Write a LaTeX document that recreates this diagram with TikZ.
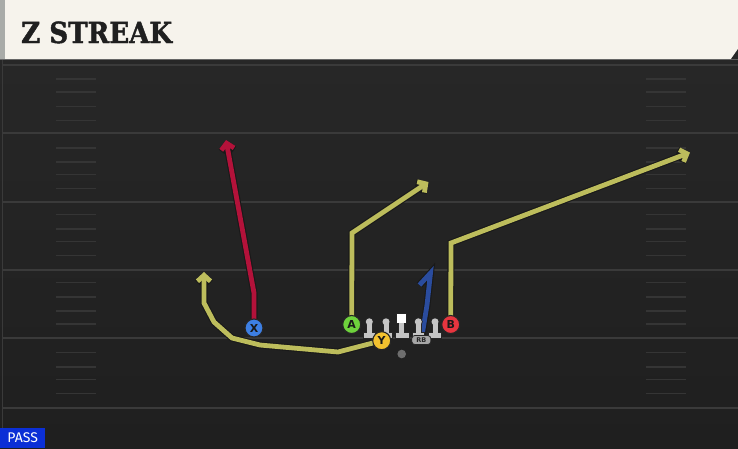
\documentclass[tikz,border=0pt]{standalone}
\usepackage{fontspec}
\setmainfont{DejaVu Sans}
\newfontfamily\titlefont[FakeBold=1.6]{DejaVu Serif Bold}
\newfontfamily\passfont{Fira Sans}
\usetikzlibrary{arrows.meta}
\definecolor{fieldtop}{HTML}{272727}
\definecolor{fieldbot}{HTML}{1F1F1F}
\definecolor{yardline}{HTML}{3A3A3A}
\definecolor{hashc}{HTML}{353535}
\definecolor{cream}{HTML}{F6F3EC}
\definecolor{creamedge}{HTML}{A9ABA8}
\definecolor{passblue}{HTML}{0B2FD6}
\definecolor{redroute}{HTML}{B3123A}
\definecolor{yelroute}{HTML}{BDBD5C}
\definecolor{blueroute}{HTML}{2A4C9E}
\definecolor{pX}{HTML}{3D7FE3}
\definecolor{pA}{HTML}{6ED23C}
\definecolor{pY}{HTML}{F3C22F}
\definecolor{pB}{HTML}{E7353F}
\definecolor{lmgray}{HTML}{C4C4C4}
\definecolor{rbgray}{HTML}{A6A6A6}
\definecolor{qbgray}{HTML}{6E6E6E}
\begin{document}
\begin{tikzpicture}[x=1pt,y=-1pt,
  outl/.style={draw=black!90, line width=7pt, line join=miter, line cap=butt},
  route/.style={line width=4.8pt, line join=miter, line cap=butt},
  tip/.style={-{Straight Barb[length=6pt,width=13pt]}},
  player/.style={circle, minimum size=18pt, inner sep=0pt, draw=black!85, line width=1.1pt,
     text=black!90, font=\bfseries\fontsize{11}{11}\selectfont},
  hash/.style={draw=hashc, line width=1.6pt},
  yard/.style={draw=yardline, line width=2pt},
  lmout/.style={draw=black!85, line width=1.8pt},
]
\useasboundingbox (0,0) rectangle (738,448);
% field
\shade[top color=fieldtop, bottom color=fieldbot] (0,59) rectangle (738,448);
\draw[draw=black!60, line width=1pt] (0,59.5) -- (738,59.5);
\draw[draw=yardline, line width=1pt] (2,60) -- (2,448);
% yard lines
\foreach \y in {65,133,202,270,338,408} \draw[yard] (3,\y) -- (738,\y);
% hash marks
\foreach \y in {79,92,106.5,120.5,148,162,174.5,188.5,214.5,229,241.5,255.5,282.5,297,311,324,352.5,367,379.5,393.5}{
  \draw[hash] (56,\y) -- (96,\y);
  \draw[hash] (646,\y) -- (686,\y);
}
% header
\fill[cream] (0,0) rectangle (738,59);
\fill[creamedge] (0,0) rectangle (5,59);
\fill[fieldtop] (738,49) -- (738,59) -- (731,59) -- cycle;
\node[anchor=base west, inner sep=0pt, text=black!88, font=\titlefont\fontsize{29}{29}\selectfont] (title) at (21,43) {\scalebox{0.9}[1]{Z STREAK}};
% pass label
\node[anchor=south west, fill=passblue, text=white, inner sep=0pt, minimum width=45pt, minimum height=20pt, font=\passfont\fontsize{14}{14}\selectfont] (pass) at (0,448) {PASS};

% player anchor coordinates
\coordinate (cX) at (254,328);
\coordinate (cA) at (351.7,324.5);
\coordinate (cY) at (381.7,340.7);
\coordinate (cB) at (450.7,324.5);
\coordinate (cRB) at (421.3,340);
% route end points
\coordinate (x1) at (254,293);
\coordinate (xe) at (226,140);
\coordinate (y1) at (338,352);
\coordinate (y2) at (260,345);
\coordinate (y3) at (232,338);
\coordinate (y4) at (214,322);
\coordinate (y5) at (204,303);
\coordinate (ye) at (204,272);
\coordinate (a1) at (352,233);
\coordinate (ae) at (428.5,182);
\coordinate (b1) at (451,243);
\coordinate (be) at (690,152.5);
\coordinate (r1) at (427,305);
\coordinate (r2) at (430.5,273);
\coordinate (re) at (419.5,285);

% outlines
\draw[outl,tip] (cX) -- (x1) -- (xe);
\draw[outl,tip] (cY) -- (y1) -- (y2) -- (y3) -- (y4) -- (y5) -- (ye);
\draw[outl,tip] (cA) -- (a1) -- (ae);
\draw[outl,tip] (cB) -- (b1) -- (be);
\draw[outl] (cRB) -- (r1) -- (r2) -- (re);
% routes
\draw[route,tip,redroute] (cX) -- (x1) -- (xe);
\draw[route,tip,yelroute] (cY) -- (y1) -- (y2) -- (y3) -- (y4) -- (y5) -- (ye);
\draw[route,tip,yelroute] (cA) -- (a1) -- (ae);
\draw[route,tip,yelroute] (cB) -- (b1) -- (be);
\draw[route,blueroute] (cRB) -- (r1) -- (r2) -- (re);

% linemen
\foreach \x in {369.3,386,418.3,435}{
  \path[lmout] (\x,321.8) circle (3.5);
  \path[lmout] (\x-2.5,321.8) rectangle (\x+2.5,334);
  \path[lmout] (\x-5.8,333) rectangle (\x+5.8,337.6);
}
\path[lmout] (397.3,314.3) rectangle (405.7,323.3);
\path[lmout] (399,323) rectangle (404.2,334);
\path[lmout] (395.8,333) rectangle (409,337.6);
\foreach \x in {369.3,386,418.3,435}{
  \fill[lmgray] (\x,321.8) circle (3.5);
  \fill[lmgray] (\x-2.5,321.8) rectangle (\x+2.5,334);
  \fill[lmgray] (\x-5.8,333) rectangle (\x+5.8,337.6);
}
\fill[lmgray] (399,323) rectangle (404.2,334);
\fill[lmgray] (395.8,333) rectangle (409,337.6);
\fill[white] (397.3,314.3) rectangle (405.7,323.3);
% QB dot
\fill[qbgray] (401.7,354) circle (4.3);
% RB
\node[draw=black!85, line width=0.8pt, fill=rbgray, rounded corners=3pt, minimum width=19pt, minimum height=9pt, inner sep=0pt, text=black!85, font=\bfseries\fontsize{6.5}{6.5}\selectfont] (RB) at (cRB) {RB};
% players
\node[player, fill=pX] (X) at (cX) {X};
\node[player, fill=pA] (A) at (cA) {A};
\node[player, fill=pY] (Y) at (cY) {Y};
\node[player, fill=pB] (B) at (cB) {B};
\end{tikzpicture}
\end{document}
